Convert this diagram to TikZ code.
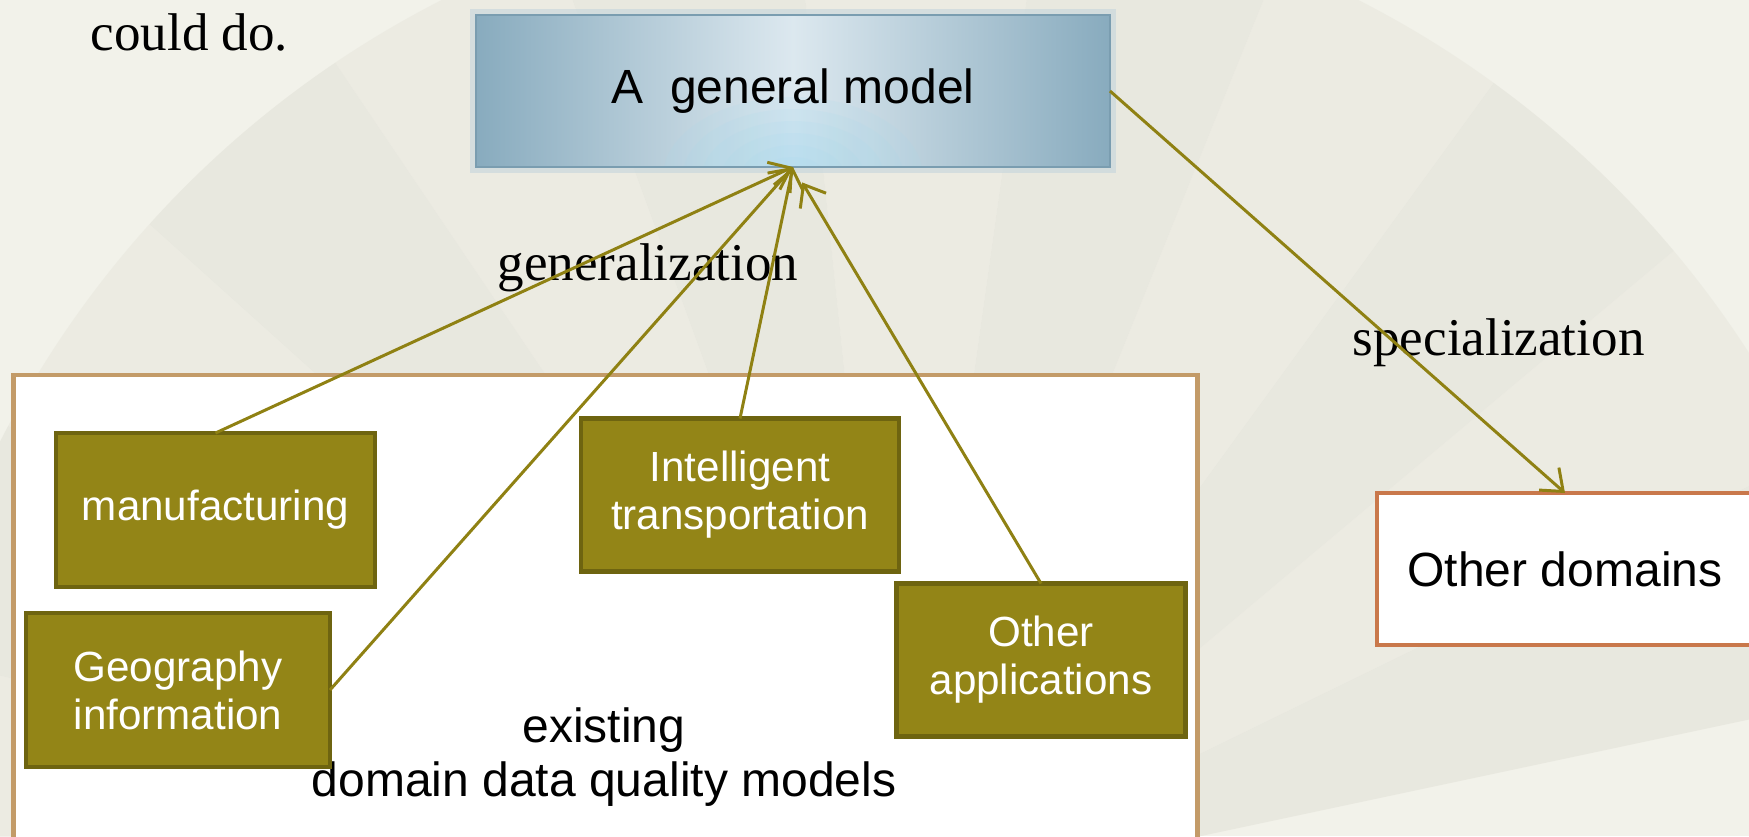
\documentclass[tikz,border=0pt]{standalone}
\usepackage{fontspec}
\setmainfont{Liberation Serif}
\setsansfont{Liberation Sans}
\usepackage{tikz}
\usetikzlibrary{arrows.meta}
\usepackage{xcolor}
\definecolor{paper}{HTML}{F2F2EA}
\definecolor{fanshade}{HTML}{E8E7DE}
\definecolor{olive}{HTML}{938517}
\definecolor{olivedark}{HTML}{6E6410}
\definecolor{link}{HTML}{8F8113}
\definecolor{frametan}{HTML}{C39B68}
\definecolor{domainedge}{HTML}{C9784B}
\definecolor{modelside}{HTML}{88ABBE}
\definecolor{modelmid}{HTML}{DCE8EF}
\definecolor{modeledge}{HTML}{7A9DB0}
\definecolor{modelglow}{HTML}{A6D9EE}
\definecolor{modelhalo}{HTML}{C4D5DC}

\begin{document}
\begin{tikzpicture}[>={Straight Barb[length=1.9mm,width=3mm]},
  appbox/.style={draw=olivedark, line width=1.3pt, fill=olive, text=white,
    font=\sffamily\fontsize{12pt}{13.7pt}\selectfont, align=center,
    inner sep=0pt, outer sep=0pt},
  genbox/.style={draw=modeledge, line width=0.8pt,
    left color=modelside, right color=modelside, middle color=modelmid,
    preaction={draw=modelhalo, line width=3.5pt, opacity=0.6},
    path picture={\foreach \s in {1.0,0.85,...,0.25}
      \fill[modelglow, opacity=0.14]
        ([yshift=-0.1cm]path picture bounding box.south) ellipse ({1.3*\s} and {0.8*\s});},
    font=\sffamily\fontsize{13.66pt}{15.6pt}\selectfont,
    minimum width=6.34cm, minimum height=1.52cm, inner sep=0pt, outer sep=0pt},
  domainbox/.style={draw=domainedge, line width=1.4pt, fill=white,
    font=\sffamily\fontsize{13.66pt}{15.6pt}\selectfont,
    minimum width=3.76cm, minimum height=1.52cm, inner sep=0pt, outer sep=0pt},
  framebox/.style={draw=frametan, line width=1.3pt, fill=white, inner sep=0pt},
  sanslabel/.style={font=\sffamily\fontsize{13.66pt}{15.6pt}\selectfont, inner sep=0pt},
  seriflabel/.style={font=\rmfamily\fontsize{15.1pt}{18pt}\selectfont, inner sep=0pt},
  link/.style={->, draw=link, line width=0.85pt}]

  % paper and folded fan behind everything
  \fill[paper] (0,0) rectangle (17.49,8.36);
  \begin{scope}
    \clip (0,0) rectangle (17.49,8.36);
    \foreach \a [count=\i, evaluate=\i as \op using {0.6+0.3*mod(\i,2)}] in {12,26,...,166}
      \fill[fanshade, opacity=\op] (9,-0.64) -- ++(\a:10.1)
        arc[start angle=\a, end angle=\a+14, radius=10.1] -- cycle;
  \end{scope}
  \useasboundingbox (0,0) rectangle (17.49,8.36);

  \node[seriflabel, anchor=base west] (coulddo) at (0.90,7.86) {could do.};

  % the frame holding the domain models
  \node[framebox, minimum width=11.84cm, minimum height=4.91cm] (frame) at (6.055,2.155) {};
  \node[sanslabel, align=center] (existing) at (6.04,0.79) {existing\\domain data quality models};

  \node[genbox] (model) at (7.93,7.45) {A~~general model};

  \node[appbox, minimum width=3.19cm, minimum height=1.54cm] (manuf) at (2.155,3.26) {manufacturing};
  \node[appbox, minimum width=3.04cm, minimum height=1.54cm] (geo) at (1.78,1.46) {Geography\\information};
  \node[appbox, minimum width=3.18cm, minimum height=1.53cm] (intel) at (7.40,3.41) {Intelligent\\transportation};
  \node[appbox, minimum width=2.89cm, minimum height=1.53cm] (otherapp) at (10.41,1.76) {Other\\applications};

  \node[domainbox] (domains) at (15.65,2.67) {Other domains};

  \node[seriflabel, anchor=base west] (gen) at (4.97,5.56) {generalization};
  \node[seriflabel, anchor=base west] (spec) at (13.52,4.81) {specialization};

  % generalization arrows
  \draw[link] (manuf.north) -- (model.south);
  \draw[link] (geo.east) -- (model.south);
  \draw[link] (intel.north) -- (model.south);
  \draw[link, shorten >=1.8mm] (otherapp.north) -- (model.south);
  % specialization arrow
  \draw[link] (model.east) -- (domains.north);
\end{tikzpicture}
\end{document}
